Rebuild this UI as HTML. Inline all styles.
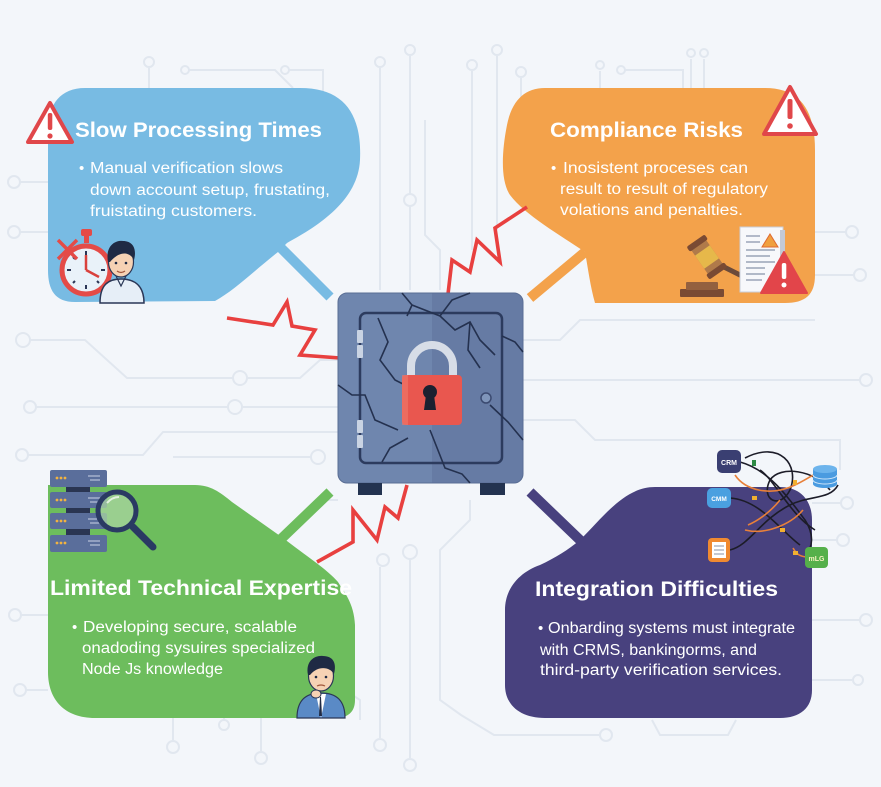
<!DOCTYPE html>
<html><head><meta charset="utf-8"><style>
html,body{margin:0;padding:0;background:#f3f6fa;}
svg{display:block}
text{font-family:"Liberation Sans",Arial,sans-serif;}
</style></head><body>
<svg width="881" height="787" viewBox="0 0 881 787" xmlns="http://www.w3.org/2000/svg">
<rect width="881" height="787" fill="#f3f6fa"/>

<!-- circuit background -->
<g fill="none" stroke="#e1e7ef" stroke-width="2">
  <path d="M149,95 V68"/><path d="M189,70 H275 L293,88"/><path d="M289,70 H323 V95"/>
  <path d="M380,290 V68"/><path d="M410,290 V206"/><path d="M410,194 V56"/>
  <path d="M472,250 V71"/><path d="M497,230 V56"/><path d="M521,200 V78"/>
  <path d="M600,95 V71"/><path d="M625,70 H683 V95"/><path d="M691,95 V59"/><path d="M704,95 V59"/>
  <path d="M440,290 V250 L425,235 V120"/>
  <path d="M30,340 H85 L127,378 H233"/><path d="M247,378 H300 L320,360 H338"/>
  <path d="M36,407 H228"/><path d="M242,407 H338"/>
  <path d="M28,455 H143 L163,432 H338"/>
  <path d="M173,457 H311"/>
  <path d="M20,182 H48"/><path d="M20,232 H48"/><path d="M21,615 H48"/><path d="M26,690 H48"/>
  <path d="M812,232 H846"/><path d="M815,275 H854"/>
  <path d="M523,340 H560 L580,320 H815"/><path d="M523,420 H575 L595,440 H840 V470"/>
  <path d="M523,380 H860"/>
  <path d="M812,503 H841"/><path d="M812,540 H837"/><path d="M812,620 H860"/><path d="M812,680 H852"/>
  <path d="M380,567 V738"/><path d="M410,559 V758"/>
  <path d="M470,500 V520 L440,550 V700 L461,715 L494,735 H599"/>
  <path d="M173,718 V740"/><path d="M224,718 V719"/><path d="M261,718 V751"/>
  <path d="M652,720 L660,735 H728 L736,720"/>
  <path d="M320,500 H338"/><path d="M360,720 V700 L345,690"/>
</g>
<g fill="#f3f6fa" stroke="#e1e7ef" stroke-width="2">
  <circle cx="149" cy="62" r="5"/><circle cx="185" cy="70" r="4"/><circle cx="285" cy="70" r="4"/>
  <circle cx="380" cy="62" r="5"/><circle cx="410" cy="50" r="5"/><circle cx="410" cy="200" r="6"/>
  <circle cx="472" cy="65" r="5"/><circle cx="497" cy="50" r="5"/><circle cx="521" cy="72" r="5"/>
  <circle cx="600" cy="65" r="4"/><circle cx="621" cy="70" r="4"/><circle cx="691" cy="53" r="4"/><circle cx="704" cy="53" r="4"/>
  <circle cx="23" cy="340" r="7"/><circle cx="240" cy="378" r="7"/><circle cx="30" cy="407" r="6"/>
  <circle cx="235" cy="407" r="7"/><circle cx="22" cy="455" r="6"/><circle cx="318" cy="457" r="7"/>
  <circle cx="14" cy="182" r="6"/><circle cx="14" cy="232" r="6"/><circle cx="15" cy="615" r="6"/><circle cx="20" cy="690" r="6"/>
  <circle cx="852" cy="232" r="6"/><circle cx="860" cy="275" r="6"/><circle cx="847" cy="503" r="6"/>
  <circle cx="843" cy="540" r="6"/><circle cx="866" cy="620" r="6"/><circle cx="858" cy="680" r="5"/>
  <circle cx="410" cy="552" r="7"/><circle cx="383" cy="560" r="6"/>
  <circle cx="380" cy="745" r="6"/><circle cx="410" cy="765" r="6"/><circle cx="606" cy="735" r="6"/>
  <circle cx="173" cy="747" r="6"/><circle cx="224" cy="725" r="5"/><circle cx="261" cy="758" r="6"/>
  <circle cx="866" cy="380" r="6"/>
</g>

<!-- bubbles -->
<path d="M85,88 L300,88 C345,88 362,115 360,160 C358,200 320,225 287,243 L278,252 C255,270 235,290 215,301 L75,302 C55,302 48,290 48,270 L48,130 C48,105 60,88 85,88 Z" fill="#78bbe3"/>
<path d="M280,247 L330,297" stroke="#78bbe3" stroke-width="10"/>

<path d="M545,88 L765,88 C800,88 815,110 815,150 L815,275 C815,295 805,303 785,303 L595,303 C590,285 588,268 585,252 C560,235 525,215 510,195 C500,180 502,150 507,125 C512,100 525,88 545,88 Z" fill="#f3a24b"/>
<path d="M585,252 L530,298" stroke="#f3a24b" stroke-width="10"/>

<path d="M48,485 L195,485 C210,485 220,492 232,502 L283,538 C305,555 328,570 338,582 C344,592 354,603 355,625 L355,700 C355,712 348,718 335,718 L95,718 C65,718 48,700 48,672 Z" fill="#6dbd5d"/>
<path d="M280,540 L330,492" stroke="#6dbd5d" stroke-width="10"/>

<path d="M655,487 L780,487 C800,487 812,500 812,520 L812,690 C812,708 800,718 780,718 L545,718 C520,718 505,705 505,685 L505,610 C505,588 520,572 540,565 C555,558 568,550 580,540 C605,515 625,487 655,487 Z" fill="#48417e"/>
<path d="M582,542 L530,492" stroke="#48417e" stroke-width="10"/>

<!-- red zigzags -->
<g fill="none" stroke="#e8403f" stroke-width="3.6" stroke-linejoin="miter">
  <path d="M227,318 L273,325 L287,302 L292,326 L315,330 L300,355 L340,358"/>
  <path d="M448,294 L452,260 L470,272 L477,240 L500,262 L495,228 L527,207"/>
  <path d="M317,562 L353,542 L353,510 L377,540 L385,507 L398,518 L407,485"/>
</g>

<!-- safe -->
<rect x="338" y="293" width="185" height="190" rx="9" fill="#6f86ae" stroke="#5a6e94" stroke-width="1"/>
<path d="M432,293 H514 a9,9 0 0 1 9,9 V474 a9,9 0 0 1 -9,9 H432 Z" fill="#5a6f98" opacity="0.45"/>
<rect x="360" y="313" width="142" height="150" rx="6" fill="none" stroke="#2c3b5e" stroke-width="2.5"/>
<g fill="#c9d3e3">
  <rect x="357" y="330" width="6" height="13" rx="1"/><rect x="357" y="345" width="6" height="13" rx="1"/>
  <rect x="357" y="420" width="6" height="13" rx="1"/><rect x="357" y="435" width="6" height="13" rx="1"/>
</g>
<g fill="none" stroke="#24314f" stroke-width="1.6">
  <path d="M402,293 L412,305 L407,316"/>
  <path d="M412,305 L440,316 L455,330 L470,322 L480,340 L495,355"/>
  <path d="M440,316 L452,300 L470,293"/>
  <path d="M378,318 L388,342 L380,360 L395,380 L405,385"/>
  <path d="M338,385 L352,395 L365,395 L375,420 L398,430"/>
  <path d="M382,462 L390,448 L408,438"/>
  <path d="M430,430 L445,468 L462,474 L470,483"/>
  <path d="M502,336 L515,342 L523,352"/>
  <path d="M490,405 L508,422 L523,440"/>
  <path d="M470,322 L468,350 L480,368"/>
</g>
<circle cx="486" cy="398" r="5" fill="#7f95ba" stroke="#3b4a70" stroke-width="1.5"/>
<path d="M411,378 V366 A21,21 0 0 1 453,366 V378" fill="none" stroke="#d7dde7" stroke-width="8"/>
<rect x="402" y="375" width="60" height="50" rx="4" fill="#e9574f"/>
<rect x="402" y="375" width="6" height="50" fill="#f07a6c" opacity="0.6"/>
<circle cx="430" cy="392" r="7" fill="#1c2030"/>
<path d="M426,395 L434,395 L436,410 L424,410 Z" fill="#1c2030"/>
<rect x="358" y="483" width="24" height="12" fill="#233350"/>
<rect x="480" y="483" width="25" height="12" fill="#233350"/>

<!-- warning triangles -->
<path d="M50,103 L72,142 H28 Z" fill="#fff" stroke="#e0474a" stroke-width="4" stroke-linejoin="round"/>
<rect x="47.8" y="113" width="4.5" height="17" rx="2" fill="#e0474a"/><circle cx="50" cy="136" r="2.6" fill="#e0474a"/>
<path d="M790,87 L816,134 H764 Z" fill="#fff" stroke="#e0474a" stroke-width="4" stroke-linejoin="round"/>
<rect x="787.5" y="99" width="5" height="20" rx="2" fill="#e0474a"/><circle cx="790" cy="126" r="2.8" fill="#e0474a"/>

<!-- stopwatch + man (blue) -->
<rect x="81" y="229" width="11" height="7" rx="2" fill="#e44b47"/>
<rect x="84" y="235" width="5" height="8" fill="#e44b47"/>
<circle cx="86" cy="270" r="24" fill="#e9f2f9" stroke="#e44b47" stroke-width="5"/>
<g stroke="#2a3656" stroke-width="2">
  <path d="M86,251 V255"/><path d="M86,285 V289"/><path d="M67,270 H71"/><path d="M101,270 H105"/>
  <path d="M73,257 L75,259"/><path d="M99,283 L97,281"/><path d="M73,283 L75,281"/>
</g>
<path d="M86,270 V255 M86,270 L99,277" stroke="#d9413c" stroke-width="2.5" fill="none"/>
<path d="M58,240 L77,259 M77,240 L58,259" stroke="#e44b47" stroke-width="3.5"/>
<path d="M100,303 C100,285 108,279 121,279 C134,279 144,285 144,303 Z" fill="#e6eef7" stroke="#2a3656" stroke-width="1.5"/>
<path d="M116,276 L121,286 L126,276" fill="none" stroke="#2a3656" stroke-width="1.2"/>
<ellipse cx="121" cy="262" rx="12.5" ry="15" fill="#f6d2b4" stroke="#2a3656" stroke-width="1.2"/>
<path d="M108,262 C105,245 116,240 123,241 C133,241 137,249 134,260 C130,252 120,250 110,262 Z" fill="#1f2a44"/>
<circle cx="116" cy="263" r="1.3" fill="#1f2a44"/><circle cx="126" cy="263" r="1.3" fill="#1f2a44"/>
<path d="M117,271 Q121,274 125,271" stroke="#a0553a" stroke-width="1.2" fill="none"/>

<!-- gavel + doc -->
<rect x="680" y="289" width="44" height="8" rx="1" fill="#7a4a33"/>
<rect x="686" y="282" width="32" height="8" rx="1" fill="#93603f"/>
<path d="M720,265 L742,276" stroke="#6b4a3a" stroke-width="5"/>
<g transform="translate(707,257) rotate(-35)">
  <rect x="-9" y="-17" width="18" height="34" rx="2" fill="#b07a4a"/>
  <rect x="-9" y="-8" width="18" height="16" fill="#e6b84a"/>
  <rect x="-11" y="-20" width="22" height="6" rx="2" fill="#7a4a33"/>
  <rect x="-11" y="14" width="22" height="6" rx="2" fill="#7a4a33"/>
</g>
<rect x="740" y="227" width="43" height="65" fill="#f7f8fb" stroke="#c9ced8" stroke-width="1"/>
<rect x="780" y="230" width="5" height="60" fill="#c3c9d6"/>
<g stroke="#9aa4b8" stroke-width="1.5">
  <path d="M746,236 H760"/><path d="M746,242 H760"/><path d="M746,250 H775"/><path d="M746,256 H770"/>
  <path d="M746,262 H775"/><path d="M746,268 H765"/><path d="M746,274 H765"/><path d="M746,280 H762"/>
</g>
<path d="M770,234 L778,247 H762 Z" fill="#f0a040" stroke="#e06a30" stroke-width="1"/>
<path d="M784,252 L807,293 H761 Z" fill="#e2454a" stroke="#e2454a" stroke-width="2" stroke-linejoin="round"/>
<rect x="781.8" y="263" width="4.5" height="16" rx="2" fill="#fff"/><circle cx="784" cy="285" r="2.5" fill="#fff"/>

<!-- servers + magnifier -->
<g>
  <rect x="66" y="486" width="24" height="6" fill="#2a3552"/><rect x="66" y="507" width="24" height="6" fill="#2a3552"/><rect x="66" y="528" width="24" height="7" fill="#2a3552"/>
  <rect x="50" y="470" width="57" height="17" rx="2" fill="#5a6e9b"/>
  <rect x="50" y="492" width="57" height="16" rx="2" fill="#5a6e9b"/>
  <rect x="50" y="513" width="57" height="16" rx="2" fill="#5a6e9b"/>
  <rect x="50" y="535" width="57" height="17" rx="2" fill="#5a6e9b"/>
  <g fill="#f2b340">
    <circle cx="57" cy="478" r="1.4"/><circle cx="61" cy="478" r="1.4"/><circle cx="65" cy="478" r="1.4"/>
    <circle cx="57" cy="500" r="1.4"/><circle cx="61" cy="500" r="1.4"/><circle cx="65" cy="500" r="1.4"/>
    <circle cx="57" cy="521" r="1.4"/><circle cx="61" cy="521" r="1.4"/><circle cx="65" cy="521" r="1.4"/>
    <circle cx="57" cy="543" r="1.4"/><circle cx="61" cy="543" r="1.4"/><circle cx="65" cy="543" r="1.4"/>
  </g>
  <g stroke="#c9d3e6" stroke-width="1">
    <path d="M88,476 H100 M90,480 H100"/><path d="M88,498 H100 M90,502 H100"/><path d="M88,519 H100 M90,523 H100"/><path d="M88,541 H100 M90,545 H100"/>
  </g>
</g>
<path d="M133,527 L153,547" stroke="#2a3a63" stroke-width="7" stroke-linecap="round"/>
<circle cx="117" cy="511" r="19" fill="#a9d6a0" fill-opacity="0.75" stroke="#2a3a63" stroke-width="5"/>
<path d="M107,503 Q112,497 119,497" stroke="#fff" stroke-width="2" fill="none" opacity="0.7"/>

<!-- green man -->
<path d="M297,718 C297,700 306,693 321,693 C336,693 345,700 345,718 Z" fill="#5a8ac6" stroke="#2a3656" stroke-width="1.2"/>
<path d="M316,694 L321,718 L326,694 Z" fill="#fff"/>
<path d="M320,697 L319,716 L322,716 L321,697 Z" fill="#1f2a44"/>
<ellipse cx="321" cy="676" rx="12.5" ry="15" fill="#f6d2b4" stroke="#2a3656" stroke-width="1.2"/>
<path d="M308,675 C305,660 316,655 323,656 C333,656 337,663 334,674 C330,667 318,665 310,675 Z" fill="#1f2a44"/>
<circle cx="316" cy="677" r="1.3" fill="#1f2a44"/><circle cx="326" cy="677" r="1.3" fill="#1f2a44"/>
<path d="M317,686 Q321,684 325,686" stroke="#a0553a" stroke-width="1.2" fill="none"/>
<ellipse cx="316" cy="694" rx="5" ry="4" fill="#f6d2b4" stroke="#2a3656" stroke-width="1"/>

<!-- integration icons -->
<g fill="none" stroke-width="1.6">
  <path d="M740,462 C770,470 790,500 805,520 C815,535 812,548 806,555" stroke="#1c1c28"/>
  <path d="M745,458 C780,440 800,465 790,490 C780,510 760,500 770,480 C780,465 815,470 830,490" stroke="#1c1c28"/>
  <path d="M730,498 C760,500 780,530 800,545" stroke="#1c1c28"/>
  <path d="M730,550 C750,545 760,520 790,505 C810,495 830,500 838,485" stroke="#1c1c28"/>
  <path d="M760,470 C775,480 790,515 815,530" stroke="#1c1c28"/>
  <path d="M735,475 C745,490 770,497 795,485 C810,478 818,470 815,478" stroke="#e8803a"/>
  <path d="M745,530 C765,535 790,525 803,510" stroke="#e8803a"/>
  <path d="M793,548 C797,555 800,556 806,557" stroke="#e8803a"/>
  <path d="M780,500 C772,510 760,520 748,525" stroke="#e8803a"/>
</g>
<g fill="#f2b030"><rect x="752" y="496" width="5" height="4"/><rect x="780" y="528" width="5" height="4"/><rect x="793" y="551" width="5" height="4"/><rect x="793" y="480" width="4" height="5"/></g>
<rect x="752" y="460" width="4" height="6" fill="#2e8a45"/>
<rect x="717" y="450" width="24" height="23" rx="5" fill="#3a3f72"/>
<text x="729" y="465" font-size="7" font-weight="bold" fill="#fff" text-anchor="middle">CRM</text>
<rect x="707" y="488" width="24" height="20" rx="5" fill="#4aa0e0"/>
<text x="719" y="501" font-size="6.5" font-weight="bold" fill="#fff" text-anchor="middle">CMM</text>
<path d="M813,469 V484 A12,4 0 0 0 837,484 V469 Z" fill="#4a9be0"/>
<ellipse cx="825" cy="469" rx="12" ry="4" fill="#6db4ec"/>
<path d="M813,475 A12,4 0 0 0 837,475 M813,480 A12,4 0 0 0 837,480" stroke="#cfe6fa" stroke-width="1" fill="none"/>
<rect x="708" y="538" width="22" height="24" rx="4" fill="#f08a30"/>
<rect x="712" y="542" width="14" height="16" fill="#fff"/>
<g stroke="#8a93a6" stroke-width="1"><path d="M714,546 H724 M714,550 H724 M714,554 H724"/></g>
<rect x="805" y="547" width="23" height="21" rx="4" fill="#55b04a"/>
<text x="816.5" y="561" font-size="7" font-weight="bold" fill="#f6f2c0" text-anchor="middle">mLG</text>

<!-- text -->
<g fill="#ffffff">
  <text x="75" y="137" font-size="21" font-weight="bold" textLength="247" lengthAdjust="spacingAndGlyphs">Slow Processing Times</text>
  <text x="79" y="173" font-size="15">•</text>
  <text x="90" y="173" font-size="15.5" textLength="193" lengthAdjust="spacingAndGlyphs">Manual verification slows</text>
  <text x="90" y="195" font-size="15.5" textLength="240" lengthAdjust="spacingAndGlyphs">down account setup, frustating,</text>
  <text x="90" y="216" font-size="15.5" textLength="167" lengthAdjust="spacingAndGlyphs">fruistating customers.</text>

  <text x="550" y="137" font-size="21" font-weight="bold" textLength="193" lengthAdjust="spacingAndGlyphs">Compliance Risks</text>
  <text x="551" y="173" font-size="15">•</text>
  <text x="563" y="173" font-size="15.5" textLength="185" lengthAdjust="spacingAndGlyphs">Inosistent proceses can</text>
  <text x="560" y="194" font-size="15.5" textLength="208" lengthAdjust="spacingAndGlyphs">result to result of regulatory</text>
  <text x="560" y="215" font-size="15.5" textLength="183" lengthAdjust="spacingAndGlyphs">volations and penalties.</text>

  <text x="50" y="595" font-size="21" font-weight="bold" textLength="302" lengthAdjust="spacingAndGlyphs">Limited Technical Expertise</text>
  <text x="72" y="632" font-size="15">•</text>
  <text x="83" y="632" font-size="15.5" textLength="214" lengthAdjust="spacingAndGlyphs">Developing secure, scalable</text>
  <text x="82" y="653" font-size="15.5" textLength="233" lengthAdjust="spacingAndGlyphs">onadoding sysuires specialized</text>
  <text x="82" y="674" font-size="15.5" textLength="141" lengthAdjust="spacingAndGlyphs">Node Js knowledge</text>

  <text x="535" y="596" font-size="21" font-weight="bold" textLength="243" lengthAdjust="spacingAndGlyphs">Integration Difficulties</text>
  <text x="538" y="633" font-size="15">•</text>
  <text x="548" y="633" font-size="15.5" textLength="247" lengthAdjust="spacingAndGlyphs">Onbarding systems must integrate</text>
  <text x="540" y="655" font-size="15.5" textLength="217" lengthAdjust="spacingAndGlyphs">with CRMS, bankingorms, and</text>
  <text x="540" y="675" font-size="15.5" textLength="242" lengthAdjust="spacingAndGlyphs">third-party verification services.</text>
</g>
</svg>
</body></html>
